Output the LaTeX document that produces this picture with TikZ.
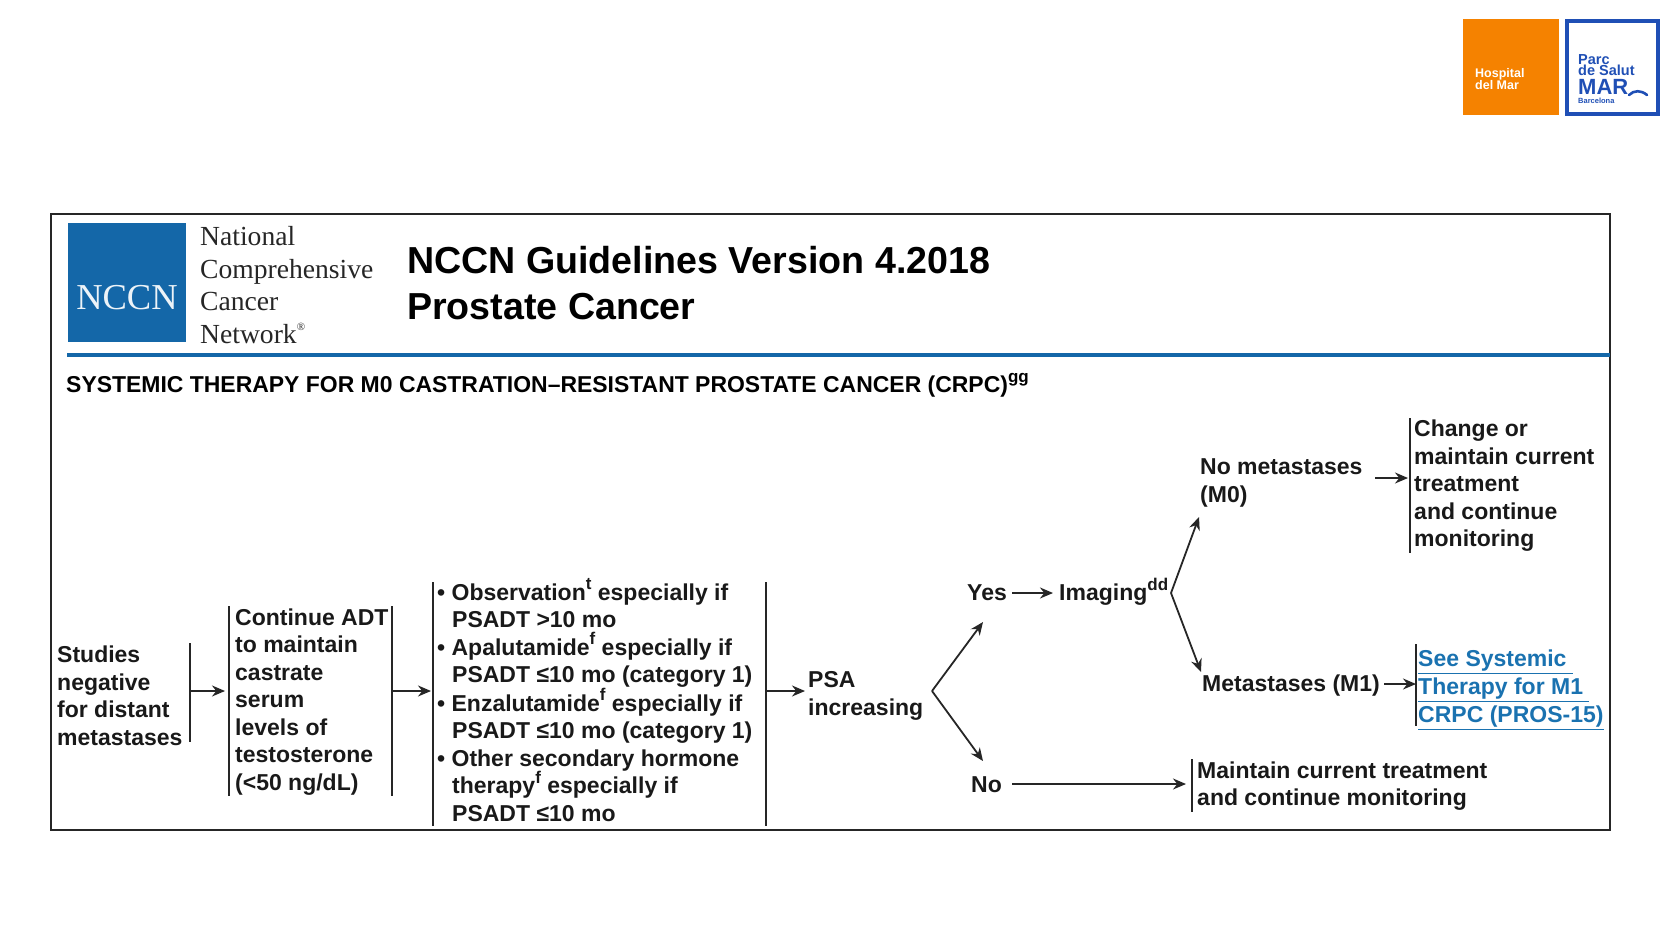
\documentclass[tikz,border=0pt]{standalone}
\usepackage{fontspec}
\setmainfont{Liberation Sans}
\newfontfamily\serifface{Liberation Serif}
\usetikzlibrary{arrows.meta}
\definecolor{nccnblue}{HTML}{1467A8}
\definecolor{linkblue}{HTML}{1A72B0}
\definecolor{hmorange}{HTML}{F58200}
\definecolor{psblue}{HTML}{1F4FB5}
\newcommand{\Sp}[1]{\raisebox{0.45em}{\fontsize{17}{17}\selectfont #1}}
\tikzset{
  body/.style={anchor=west,inner sep=0pt,align=left,font=\bfseries\fontsize{23}{27.5}\selectfont,text=black!90},
  bar/.style={line width=1.2pt,black!85},
  link/.style={-{Stealth[length=13pt,width=11pt]},line width=1.8pt,black!85}
}
\begin{document}
\begin{tikzpicture}[x=1pt,y=-1pt]
\useasboundingbox (0,0) rectangle (1680,945);
% institutional marks
\fill[hmorange] (1463,19) rectangle (1559,115);
\node[anchor=west,inner sep=0pt,align=left,text=white,font=\bfseries\fontsize{12.5}{12.5}\selectfont] (hm) at (1475,79) {Hospital\\del Mar};
\draw[psblue,line width=4pt] (1567,21) rectangle (1658,113.5);
\node[anchor=west,inner sep=0pt,align=left,text=psblue,font=\bfseries\fontsize{14.5}{11.8}\selectfont] (ps) at (1578,65) {Parc\\de Salut};
\node[anchor=west,inner sep=0pt,text=psblue,font=\bfseries\fontsize{22}{22}\selectfont] (mar) at (1578,86.5) {MAR};
\node[anchor=west,inner sep=0pt,text=psblue,font=\bfseries\fontsize{7.5}{7.5}\selectfont] (bcn) at (1578,101) {Barcelona};
\draw[psblue,line width=2.6pt,line cap=round] (1629,95) .. controls (1634,90) and (1641,90) .. (1647,95);
% main frame and masthead
\draw[black!85,line width=1.1pt] (51,214) rectangle (1610,830);
\fill[nccnblue] (68,223) rectangle (186,342);
\node[text=white!92!nccnblue,inner sep=0pt,font=\serifface\fontsize{36.5}{36.5}\selectfont] (logo) at (127,298) {NCCN};
\node[anchor=west,inner sep=0pt,align=left,font=\serifface\fontsize{27.6}{32.4}\selectfont,text=black!85] (org) at (200,285) {National\\Comprehensive\\Cancer\\Network\Sp{\fontsize{11}{11}\selectfont\textregistered}};
\node[anchor=west,inner sep=0pt,align=left,font=\bfseries\fontsize{37.6}{45.5}\selectfont] (title) at (407,283) {NCCN Guidelines Version 4.2018\\Prostate Cancer};
\draw[nccnblue,line width=3.2pt] (67,355) -- (1610,355);
\node[anchor=west,inner sep=0pt,font=\bfseries\fontsize{22.95}{27}\selectfont] (head) at (66,385) {SYSTEMIC THERAPY FOR M0 CASTRATION--RESISTANT PROSTATE CANCER (CRPC)\Sp{gg}};
% pathway text
\node[body] (studies) at (57,696) {Studies\\negative\\for distant\\metastases};
\node[body] (adt) at (235,702) {Continue ADT\\to maintain\\castrate\\serum\\levels of\\testosterone\\(<50 ng/dL)};
\node[body] (opts) at (437,700) {• Observation\Sp{t} especially if\\\hspace*{15pt}PSADT >10 mo\\• Apalutamide\Sp{f} especially if\\\hspace*{15pt}PSADT ≤10 mo (category 1)\\• Enzalutamide\Sp{f} especially if\\\hspace*{15pt}PSADT ≤10 mo (category 1)\\• Other secondary hormone\\\hspace*{15pt}therapy\Sp{f} especially if\\\hspace*{15pt}PSADT ≤10 mo};
\node[body] (psa) at (808,696) {PSA\\increasing};
\node[body] (yes) at (967,593) {Yes};
\node[body] (imaging) at (1059,592) {Imaging\Sp{dd}};
\node[body] (no) at (971,785) {No};
\node[body] (m0) at (1200,483) {No metastases\\(M0)};
\node[body] (m1) at (1202,686) {Metastases (M1)};
\node[body] (change) at (1414,486) {Change or\\maintain current\\treatment\\and continue\\monitoring};
\node[body,text=linkblue,font=\bfseries\fontsize{23}{28}\selectfont] (see) at (1418,690) {\underline{See Systemic\ }\\\underline{Therapy for M1\ }\\\underline{CRPC (PROS-15)}};
\node[body] (maintain) at (1197,786) {Maintain current treatment\\and continue monitoring};
% bracket bars beside the text blocks
\foreach \nm/\xx/\ya/\yb in {a/190/643/742,b/229/606/796,c/392/606/796,d/433/582/826,e/766/582/826,f/1410/418/553,g/1416/644/726,h/1192/759/812}{
  \coordinate (\nm top) at (\xx,\ya);
  \coordinate (\nm bot) at (\xx,\yb);
  \draw[bar] (\nm top) -- (\nm bot);
}
% connector anchor points
\coordinate (s1) at (190,691);
\coordinate (t1) at (225,691);
\coordinate (s2) at (392,691);
\coordinate (t2) at (431,691);
\coordinate (s3) at (766,691);
\coordinate (t3) at (805,691);
\coordinate (fork) at (932,691);
\coordinate (forkup) at (983,622);
\coordinate (forkdn) at (983,761);
\coordinate (s4) at (1012,593);
\coordinate (t4) at (1053,593);
\coordinate (img) at (1171,593);
\coordinate (imgup) at (1199,517);
\coordinate (imgdn) at (1201,672);
\coordinate (s5) at (1375,478);
\coordinate (t5) at (1408,478);
\coordinate (s6) at (1384,684);
\coordinate (t6) at (1416,684);
\coordinate (s7) at (1012,784);
\coordinate (t7) at (1186,784);
\draw[link] (s1) -- (t1);
\draw[link] (s2) -- (t2);
\draw[link] (s3) -- (t3);
\draw[link] (fork) -- (forkup);
\draw[link] (fork) -- (forkdn);
\draw[link] (s4) -- (t4);
\draw[link] (img) -- (imgup);
\draw[link] (img) -- (imgdn);
\draw[link] (s5) -- (t5);
\draw[link] (s6) -- (t6);
\draw[link] (s7) -- (t7);
\end{tikzpicture}
\end{document}
